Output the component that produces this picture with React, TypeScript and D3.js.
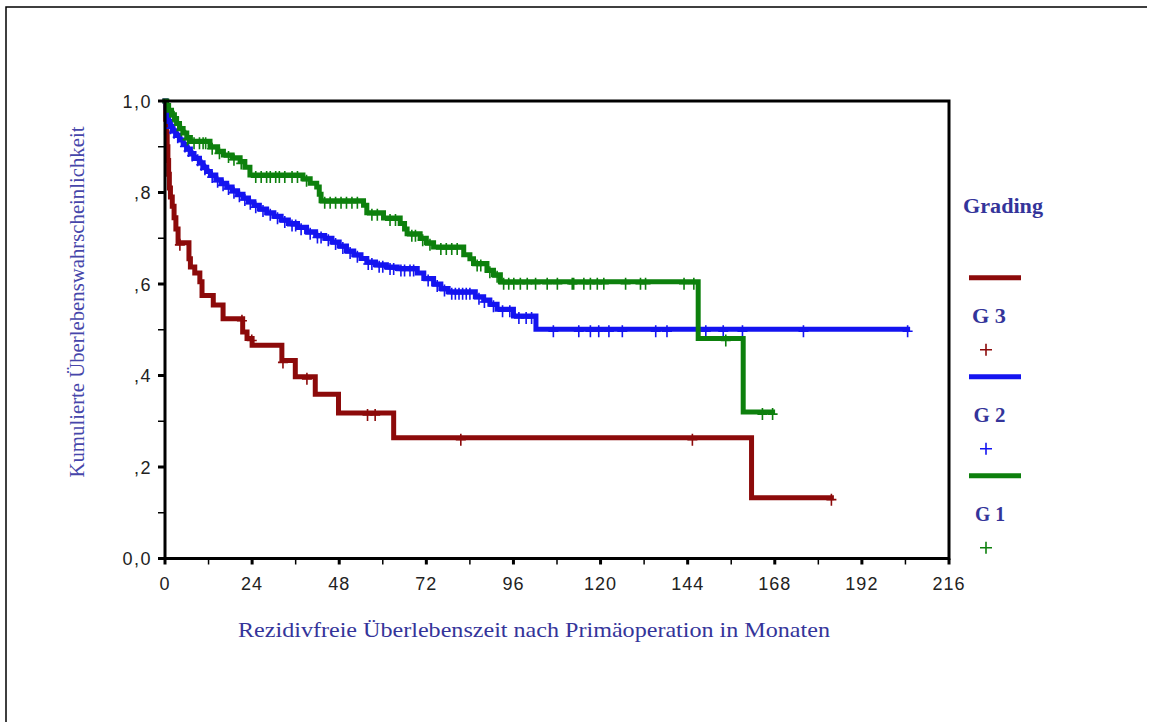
import React from "react";
import * as d3 from "d3";

// Kaplan-Meier step data: event times (months) and survival after each event
const g3Times = [0.2, 0.4, 0.6, 0.8, 1.0, 1.2, 1.5, 2.0, 2.5, 3.0, 3.6, 6.6, 7.0, 8.2, 9.6, 10.2, 13.3, 16.0, 21.4, 22.6, 24.0, 32.2, 35.9, 41.4, 47.8, 63.0, 161.6];
const g3Surv = [0.96, 0.93, 0.9, 0.87, 0.84, 0.81, 0.79, 0.77, 0.745, 0.72, 0.69, 0.655, 0.637, 0.624, 0.605, 0.575, 0.554, 0.524, 0.495, 0.481, 0.466, 0.433, 0.397, 0.359, 0.318, 0.264, 0.133];
const g3Censored = [4.1, 21.2, 23.9, 32.5, 39.1, 55.8, 57.9, 81.5, 145.3, 183.6];

const g2Times = [0.3, 0.7, 1.0, 1.5, 2.2, 3.0, 4.0, 5.0, 6.0, 7.0, 8.0, 9.5, 10.5, 11.5, 12.5, 14.0, 15.5, 17.0, 18.5, 20.0, 21.5, 23.0, 24.5, 26.0, 28.0, 30.0, 32.0, 34.0, 36.5, 39.0, 41.5, 44.0, 46.0, 48.0, 50.0, 52.0, 54.0, 55.6, 58.0, 61.0, 64.0, 69.5, 71.3, 74.0, 76.0, 78.0, 85.5, 87.8, 89.5, 91.5, 96.0, 102.2];
const g2Surv = [0.985, 0.97, 0.955, 0.945, 0.935, 0.925, 0.915, 0.905, 0.895, 0.885, 0.875, 0.865, 0.855, 0.846, 0.838, 0.828, 0.82, 0.812, 0.804, 0.796, 0.788, 0.78, 0.772, 0.764, 0.756, 0.748, 0.74, 0.732, 0.724, 0.714, 0.706, 0.7, 0.692, 0.683, 0.672, 0.664, 0.656, 0.648, 0.642, 0.637, 0.634, 0.624, 0.612, 0.6, 0.59, 0.583, 0.572, 0.565, 0.556, 0.545, 0.53, 0.501];
const g2Censored = [1.5, 2.5, 3.5, 5.5, 6.5, 7.5, 9.0, 10.0, 11.0, 13.0, 14.5, 16.0, 17.5, 19.0, 20.5, 22.0, 23.5, 25.0, 27.0, 29.0, 31.0, 33.0, 35.0, 36.0, 37.5, 40.0, 42.0, 43.0, 45.0, 47.0, 49.0, 51.0, 53.0, 56.0, 57.0, 59.0, 60.0, 62.0, 63.0, 65.0, 66.0, 67.5, 68.5, 72.5, 75.0, 77.0, 79.0, 80.0, 81.0, 82.0, 83.0, 84.0, 86.5, 88.0, 90.5, 93.0, 95.0, 97.5, 99.5, 101.0, 107.0, 114.0, 117.2, 119.5, 122.3, 126.0, 135.2, 138.3, 149.0, 153.8, 159.1, 175.9, 204.6];

const g1Times = [0.5, 1.0, 1.8, 2.6, 3.2, 4.0, 5.0, 6.0, 7.0, 12.4, 14.5, 16.1, 18.5, 20.7, 22.0, 23.4, 38.0, 40.0, 41.8, 42.5, 43.0, 54.7, 55.6, 60.2, 64.8, 66.0, 66.7, 70.3, 72.0, 74.0, 82.3, 84.0, 85.0, 88.7, 90.5, 92.4, 146.9, 159.3];
const g1Surv = [0.99, 0.98, 0.97, 0.96, 0.951, 0.94, 0.93, 0.92, 0.912, 0.9, 0.89, 0.882, 0.876, 0.868, 0.855, 0.838, 0.83, 0.82, 0.812, 0.796, 0.782, 0.772, 0.756, 0.744, 0.732, 0.72, 0.71, 0.7, 0.69, 0.681, 0.664, 0.655, 0.645, 0.63, 0.62, 0.605, 0.481, 0.32];
const g1Censored = [2.5, 4.5, 6.2, 8.0, 9.5, 10.5, 11.2, 13.0, 15.0, 17.5, 19.0, 21.0, 25.0, 26.5, 28.0, 29.0, 30.5, 31.5, 33.0, 35.0, 36.5, 39.0, 44.0, 45.5, 47.0, 48.5, 50.0, 51.5, 53.0, 57.0, 58.5, 62.0, 63.5, 68.0, 69.0, 71.0, 73.0, 76.0, 77.5, 79.0, 80.5, 86.0, 87.0, 89.5, 91.5, 93.3, 94.7, 96.1, 97.9, 99.8, 102.1, 105.3, 108.1, 112.2, 112.6, 115.4, 117.2, 119.1, 120.9, 126.9, 131.0, 132.4, 143.0, 145.7, 154.5, 164.6, 167.4];

const xTicks = [0, 12, 24, 36, 48, 60, 72, 84, 96, 108, 120, 132, 144, 156, 168, 180, 192, 204, 216];
const xTickLabels = ["0", "24", "48", "72", "96", "120", "144", "168", "192", "216"];
const yTicks = [0, 0.1, 0.2, 0.3, 0.4, 0.5, 0.6, 0.7, 0.8, 0.9, 1.0];
const yTickLabels = ["0,0", ",2", ",4", ",6", ",8", "1,0"];

const groups = [
  { name: "G 3", color: "#8c0a0a", times: g3Times, surv: g3Surv, censored: g3Censored },
  { name: "G 2", color: "#1414f0", times: g2Times, surv: g2Surv, censored: g2Censored },
  { name: "G 1", color: "#0d800d", times: g1Times, surv: g1Surv, censored: g1Censored },
];

const titleColor = "#34349a";
const serif = "'Liberation Serif', 'Times New Roman', serif";
const sans = "Arial, 'Liberation Sans', sans-serif";

export default function App() {
  const x = d3.scaleLinear().domain([0, 216]).range([165, 949]);
  const y = d3.scaleLinear().domain([0, 1]).range([558.5, 101]);

  const stepLine = d3
    .line<[number, number]>()
    .x((d) => x(d[0]))
    .y((d) => y(d[1]))
    .curve(d3.curveStepAfter);

  const survAt = (times: number[], surv: number[], t: number) => {
    let s = 1;
    for (let i = 0; i < times.length; i++) if (times[i] <= t) s = surv[i];
    return s;
  };

  return (
    <svg
      width={1151}
      height={722}
      style={{ position: "absolute", left: 0, top: 0, background: "#fff" }}
    >
      <rect x={0} y={0} width={1151} height={722} fill="#fff" />
      {/* outer frame */}
      <path d="M6,730 V7 H1147" fill="none" stroke="#000" strokeWidth={1.5} />

      {/* curves */}
      {groups.map((g) => {
        const end = Math.max(...g.censored, ...g.times);
        const pts: [number, number][] = [[0, 1]];
        g.times.forEach((t, i) => pts.push([t, g.surv[i]]));
        pts.push([end, g.surv[g.surv.length - 1]]);
        return (
          <g key={g.name}>
            <path
              d={stepLine(pts) || ""}
              fill="none"
              stroke={g.color}
              strokeWidth={5}
              strokeLinejoin="miter"
              strokeLinecap="square"
            />
            {g.censored.map((c, i) => {
              const cx = x(c);
              const cy = y(survAt(g.times, g.surv, c)) + 2;
              return (
                <path
                  key={i}
                  d={`M${cx},${cy - 6}V${cy + 6}M${cx - 5},${cy}H${cx + 5}`}
                  stroke={g.color}
                  strokeWidth={1.6}
                  fill="none"
                />
              );
            })}
          </g>
        );
      })}

      {/* plot frame */}
      <path
        d={`M${x(0)},${y(1)} H${x(216)} V${y(0)} H${x(0)} Z`}
        fill="none"
        stroke="#000"
        strokeWidth={3}
      />

      {/* y axis ticks */}
      {yTicks.map((t, i) => (
        <line
          key={t}
          x1={x(0) - 7}
          x2={x(0)}
          y1={y(t)}
          y2={y(t)}
          stroke="#000"
          strokeWidth={i % 2 === 0 ? 3 : 1.5}
        />
      ))}
      {yTickLabels.map((l, i) => (
        <text
          key={l}
          x={152}
          y={y(i * 0.2) + 6.5}
          textAnchor="end"
          fontFamily={sans}
          fontSize={18}
          letterSpacing={1.5}
          fill="#222"
        >
          {l}
        </text>
      ))}

      {/* x axis ticks */}
      {xTicks.map((t, i) => (
        <line
          key={t}
          x1={x(t)}
          x2={x(t)}
          y1={y(0)}
          y2={y(0) + 6}
          stroke="#000"
          strokeWidth={i % 2 === 0 ? 3 : 1.5}
        />
      ))}
      {xTickLabels.map((l, i) => (
        <text
          key={l}
          x={x(i * 24)}
          y={590}
          textAnchor="middle"
          fontFamily={sans}
          fontSize={18}
          letterSpacing={1}
          fill="#222"
        >
          {l}
        </text>
      ))}

      {/* axis titles */}
      <text
        x={534}
        y={637}
        textAnchor="middle"
        fontFamily={serif}
        fontSize={21}
        textLength={592}
        lengthAdjust="spacingAndGlyphs"
        fill={titleColor}
      >
        Rezidivfreie Überlebenszeit nach Primäoperation in Monaten
      </text>
      <text
        transform="translate(84,302) rotate(-90)"
        textAnchor="middle"
        fontFamily={serif}
        fontSize={21}
        textLength={351}
        lengthAdjust="spacingAndGlyphs"
        fill="#4646aa"
      >
        Kumulierte Überlebenswahrscheinlichkeit
      </text>

      {/* legend */}
      <text
        x={963}
        y={213}
        fontFamily={serif}
        fontSize={20}
        fontWeight="bold"
        textLength={80}
        lengthAdjust="spacingAndGlyphs"
        fill={titleColor}
      >
        Grading
      </text>
      {groups.map((g, i) => {
        const top = 277.7 + i * 99;
        return (
          <g key={g.name}>
            <line x1={969} x2={1021} y1={top} y2={top} stroke={g.color} strokeWidth={5} />
            <text
              x={972 + i * 1.5}
              y={top + 45}
              fontFamily={serif}
              fontSize={20}
              fontWeight="bold"
              textLength={34 - i * 2}
              lengthAdjust="spacingAndGlyphs"
              fill={titleColor}
            >
              {g.name}
            </text>
            <path
              d={`M${986},${top + 66}V${top + 78}M${980},${top + 72}H${992}`}
              stroke={g.color}
              strokeWidth={1.6}
              fill="none"
            />
          </g>
        );
      })}
    </svg>
  );
}
